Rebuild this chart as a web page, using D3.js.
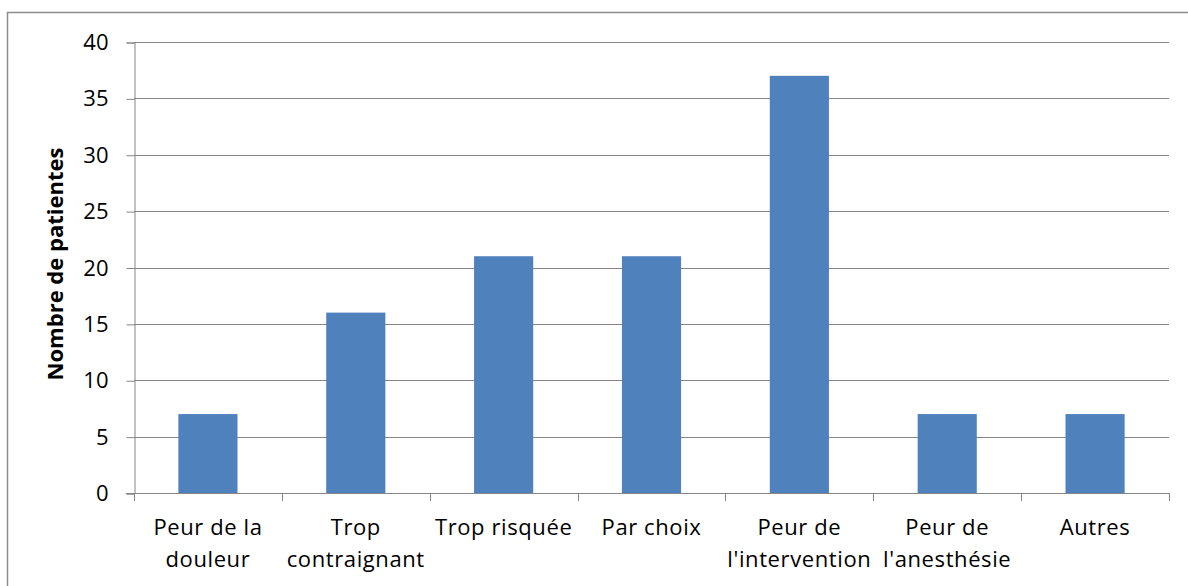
<!DOCTYPE html>
<html>
<head>
<meta charset="utf-8">
<script src="https://cdn.jsdelivr.net/npm/d3@7"></script>
<style>
  html, body { margin: 0; padding: 0; background: #fff; }
  svg { display: block; }
  text { font-family: "Open Sans", Lato, sans-serif; fill: #000; }
</style>
</head>
<body>
<div id="chart"></div>
<script>
// categories (line breaks as in the original labels)
const categories = [
  "Peur de la\ndouleur",
  "Trop\ncontraignant",
  "Trop risquée",
  "Par choix",
  "Peur de\nl'intervention",
  "Peur de\nl'anesthésie",
  "Autres"
]
const patients = [7, 16, 21, 21, 37, 7, 7]
const yTicks = [0, 5, 10, 15, 20, 25, 30, 35, 40]
const yTitle = "Nombre de patientes"

const width = 1188
const height = 586
const margin = { top: 42, right: 19, bottom: 93, left: 134 }
const font = '"Open Sans", Lato, sans-serif'

const svg = d3.select('#chart').append('svg')
  .attr('width', width)
  .attr('height', height)

// outer chart border (runs off the right and bottom edges)
svg.append('rect')
  .attr('x', 7.5).attr('y', 12.5)
  .attr('width', width).attr('height', height)
  .attr('fill', 'none')
  .attr('stroke', '#8c8c8c')
  .attr('stroke-width', 1.5)

const x = d3.scaleBand()
  .domain(categories)
  .range([margin.left, width - margin.right])
  .paddingInner(0.6)
  .paddingOuter(0.3)

const y = d3.scaleLinear()
  .domain([0, 40])
  .range([height - margin.bottom, margin.top])

// gridlines
svg.append('g')
  .selectAll('line')
  .data(yTicks.filter(d => d > 0))
  .enter().append('line')
    .attr('x1', margin.left)
    .attr('x2', width - margin.right)
    .attr('y1', d => Math.round(y(d)) + 0.5)
    .attr('y2', d => Math.round(y(d)) + 0.5)
    .attr('stroke', '#868686')
    .attr('stroke-width', 1)

// bars
svg.append('g')
  .selectAll('rect')
  .data(patients)
  .enter().append('rect')
    .attr('x', (d, i) => x(categories[i]))
    .attr('y', d => y(d))
    .attr('width', x.bandwidth())
    .attr('height', d => y(0) - y(d))
    .attr('fill', '#4f81bd')

// y axis
const yAxis = svg.append('g')
  .attr('transform', `translate(${margin.left + 0.5},0.5)`)
  .call(d3.axisLeft(y).tickValues(yTicks).tickSize(8).tickPadding(18))
yAxis.select('.domain').attr('stroke', '#868686')
yAxis.selectAll('.tick line').attr('stroke', '#868686')
yAxis.selectAll('.tick text')
  .attr('font-size', 22)
  .attr('font-family', font)
  .attr('fill', '#000')

// x axis baseline and category boundary ticks
const step = x.step()
const bounds = d3.range(categories.length + 1).map(i => margin.left + i * step)
const xg = svg.append('g')
xg.append('line')
  .attr('x1', margin.left - 8).attr('x2', width - margin.right)
  .attr('y1', y(0) + 0.5).attr('y2', y(0) + 0.5)
  .attr('stroke', '#868686')
xg.selectAll('.bt')
  .data(bounds)
  .enter().append('line')
    .attr('class', 'bt')
    .attr('x1', d => Math.round(d) + 0.5).attr('x2', d => Math.round(d) + 0.5)
    .attr('y1', y(0)).attr('y2', y(0) + 8)
    .attr('stroke', '#868686')

// category labels
const labels = svg.append('g')
  .selectAll('text')
  .data(categories)
  .enter().append('text')
    .attr('text-anchor', 'middle')
    .attr('font-size', 22)
    .attr('letter-spacing', 0.6)
    .attr('x', d => x(d) + x.bandwidth() / 2)
    .attr('y', 535)
labels.each(function(d) {
  const t = d3.select(this)
  d.split('\n').forEach((line, i) => {
    t.append('tspan')
      .attr('x', x(d) + x.bandwidth() / 2)
      .attr('dy', i === 0 ? 0 : 32)
      .text(line)
  })
})

// y axis title
svg.append('text')
  .attr('transform', `translate(63,264) rotate(-90)`)
  .attr('text-anchor', 'middle')
  .attr('font-size', 22)
  .attr('font-weight', 'bold')
  .text(yTitle)
</script>
</body>
</html>
